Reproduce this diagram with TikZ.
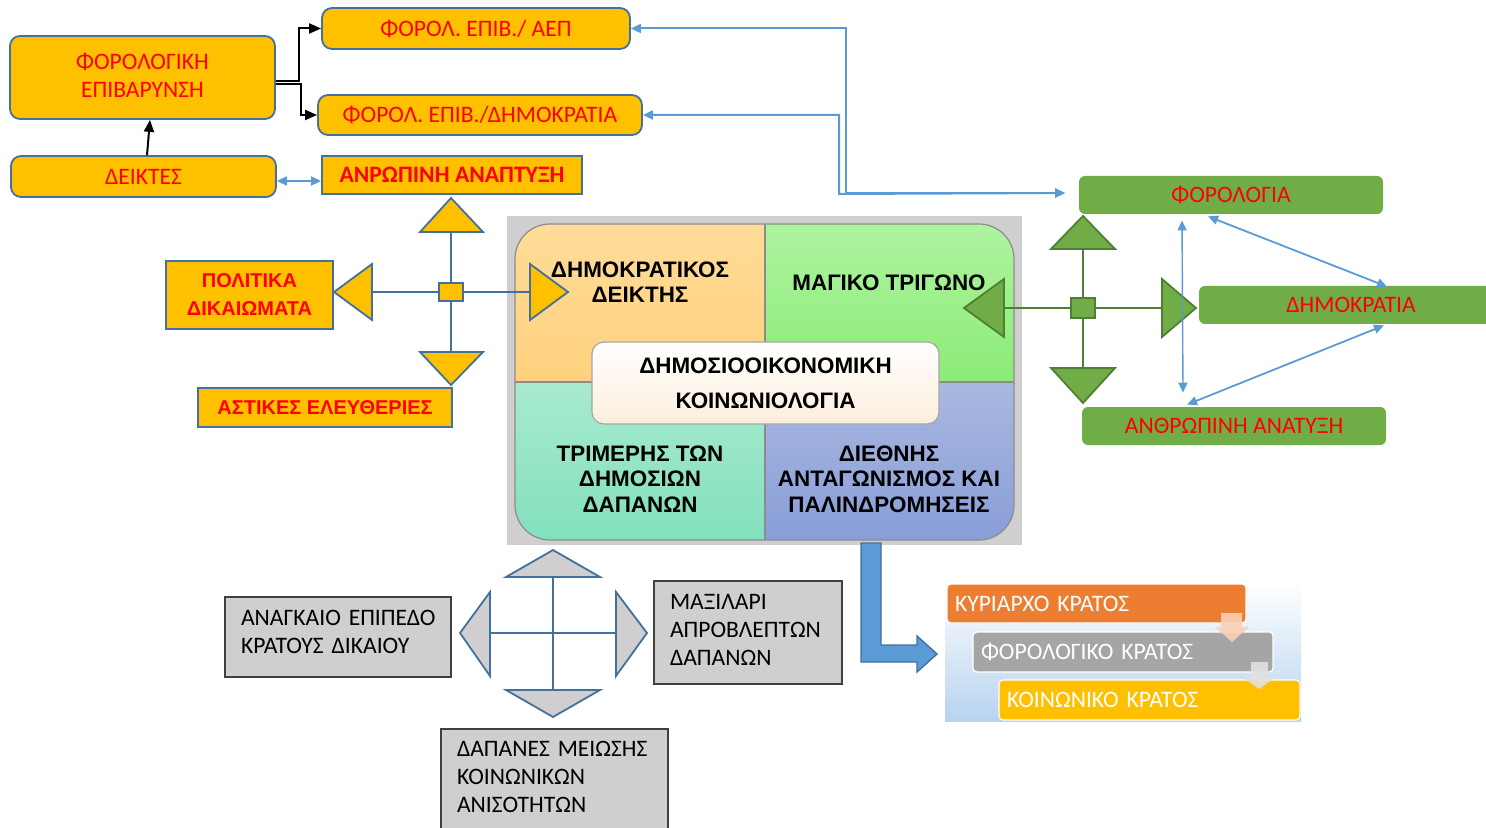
\documentclass[tikz,border=0pt]{standalone}
\usepackage{fontspec}
\setmainfont{Carlito}
\newfontfamily\arb{Liberation Sans}
\usetikzlibrary{arrows.meta,calc}
\definecolor{gold}{HTML}{FFC000}
\definecolor{sblue}{HTML}{41719C}
\definecolor{lblue}{HTML}{5B9BD5}
\definecolor{gfill}{HTML}{70AD47}
\definecolor{gdark}{HTML}{507E32}
\definecolor{lgray}{HTML}{D0CECE}
\definecolor{orng}{HTML}{ED7D31}
\definecolor{mgray}{HTML}{A5A5A5}
\definecolor{cream}{HTML}{FCEEDC}
\definecolor{qtlA}{HTML}{FFDC98}
\definecolor{qtlB}{HTML}{FFD17E}
\definecolor{qtrA}{HTML}{ADF4A0}
\definecolor{qtrB}{HTML}{8DEB76}
\definecolor{qblA}{HTML}{A8EAD0}
\definecolor{qblB}{HTML}{82E0BC}
\definecolor{qbrA}{HTML}{AAB8E1}
\definecolor{qbrB}{HTML}{889ED7}
\definecolor{stbg}{HTML}{B7D3EE}
\begin{document}
\begin{tikzpicture}[x=0.5pt,y=-0.5pt,
  obox/.style={draw=sblue, line width=0.9pt, fill=gold, text=red, rounded corners=5pt,
    inner sep=0pt, align=center, font=\fontsize{11.8}{14}\selectfont},
  sbox/.style={obox, rounded corners=0pt, font=\arb\bfseries\fontsize{10}{14}\selectfont},
  gbox/.style={fill=gfill, draw=none, rounded corners=3pt, text=red, inner sep=0pt,
    font=\fontsize{11.8}{14}\selectfont},
  grbox/.style={fill=lgray, draw=black!75, line width=0.6pt, align=left, inner xsep=8pt,
    font=\fontsize{11.8}{14}\selectfont},
  stbox/.style={draw=white, line width=0.6pt, rounded corners=2pt, text=white, align=left,
    inner xsep=4pt, inner ysep=0pt, font=\fontsize{11.8}{13}\selectfont},
  blk/.style={draw=black, line width=1pt, -{Triangle[length=6pt,width=5pt]}},
  bl/.style={draw=lblue, line width=0.9pt,
    {Triangle[length=5pt,width=4.5pt]}-{Triangle[length=5pt,width=4.5pt]}},
  quad/.style={font=\arb\bfseries\fontsize{11.2}{12.75}\selectfont, align=center, inner sep=0pt},
  otri/.style={fill=gold, draw=sblue, line width=0.9pt},
  oline/.style={draw=sblue, line width=1.1pt},
  gtri/.style={fill=gfill, draw=gdark, line width=0.9pt},
  gline/.style={draw=gdark, line width=1.1pt},
  ytri/.style={fill=lgray, draw=sblue, line width=0.9pt},
  yline/.style={draw=sblue, line width=1.1pt}
]
\useasboundingbox (0,0) rectangle (1486,828);

% ---------- top-left orange boxes ----------
\node[obox, minimum width=132.5pt, minimum height=41.5pt] (fe) at (142.5,77.5) {ΦΟΡΟΛΟΓΙΚΗ\\ΕΠΙΒΑΡΥΝΣΗ\vspace{2pt}};
\node[obox, minimum width=154pt, minimum height=20.5pt] (aep) at (476,28.5) {ΦΟΡΟΛ. ΕΠΙΒ./ ΑΕΠ};
\node[obox, minimum width=162pt, minimum height=20pt] (dim) at (480,115) {ΦΟΡΟΛ. ΕΠΙΒ./ΔΗΜΟΚΡΑΤΙΑ};
\node[obox, minimum width=132.5pt, minimum height=20.5pt] (deik) at (143.5,176.5) {ΔΕΙΚΤΕΣ};
\node[obox, rounded corners=0pt, minimum width=130pt, minimum height=19pt,
  font=\bfseries\fontsize{11.8}{14}\selectfont] (anr) at (452,175) {ΑΝΡΩΠΙΝΗ ΑΝΑΠΤΥΞΗ};
\node[sbox, minimum width=83.5pt, minimum height=34pt] (pol) at (249.5,295) {ΠΟΛΙΤΙΚΑ\\ΔΙΚΑΙΩΜΑΤΑ};
\node[sbox, minimum width=127pt, minimum height=19.5pt] (ast) at (325,407.5) {ΑΣΤΙΚΕΣ ΕΛΕΥΘΕΡΙΕΣ};

\draw[blk] ([yshift=-1.75pt]fe.east) -- ++(11.5pt,0) |- (aep.west);
\draw[blk] ([yshift=-3.25pt]fe.east) -- ++(12.5pt,0) |- (dim.west);
\draw[blk] ([xshift=1.75pt]deik.north) -- ([xshift=3.75pt]fe.south);
\draw[bl] ([yshift=-2.25pt]deik.east) -- ([yshift=-3pt]anr.west);

% ---------- central matrix ----------
\fill[lgray] (507,216) rectangle (1022,545);
\begin{scope}
\clip[rounded corners=17.5pt] (515,224) rectangle (1014,540);
\shade[top color=qtlA, bottom color=qtlB] (515,224) rectangle (765,382);
\shade[top color=qtrA, bottom color=qtrB] (765,224) rectangle (1014,382);
\shade[top color=qblA, bottom color=qblB] (515,382) rectangle (765,540);
\shade[top color=qbrA, bottom color=qbrB] (765,382) rectangle (1014,540);
\end{scope}
\draw[black!45, line width=0.6pt] (765,224) -- (765,540) (515,382) -- (1014,382);
\draw[black!45, line width=0.6pt, rounded corners=17.5pt] (515,224) rectangle (1014,540);

% ---------- orange cross ----------
\coordinate (lL) at (372,292); \coordinate (lR) at (530,292);
\coordinate (lU) at (451,232); \coordinate (lD) at (451,352);
\draw[oline] (lL) -- (lR);
\draw[oline] (lU) -- (lD);
\draw[otri] (451,198) -- (483,232) -- (420,232) -- cycle;
\draw[otri] (420,352) -- (483,352) -- (451,385) -- cycle;
\draw[otri] (334,292) -- (372,264) -- (372,320) -- cycle;
\draw[otri] (530,264) -- (568,292) -- (530,320) -- cycle;
\node[fill=gold, draw=sblue, line width=0.9pt, minimum width=12pt, minimum height=9pt, inner sep=0pt] (lsq) at (451,292) {};

% ---------- green cross ----------
\coordinate (gL) at (1004,308); \coordinate (gR) at (1162,308);
\coordinate (gU) at (1083,249); \coordinate (gD) at (1083,368);
\draw[gline] (gL) -- (gR);
\draw[gline] (gU) -- (gD);
\draw[gtri] (1083,216) -- (1115,249) -- (1051,249) -- cycle;
\draw[gtri] (1051,368) -- (1115,368) -- (1083,403) -- cycle;
\draw[gtri] (964,308) -- (1004,279) -- (1004,337) -- cycle;
\draw[gtri] (1162,279) -- (1196,308) -- (1162,337) -- cycle;
\node[fill=gfill, draw=gdark, line width=0.9pt, minimum width=12pt, minimum height=10pt, inner sep=0pt] (gsq) at (1083,308) {};

\node[draw=black!35, line width=0.6pt, rounded corners=6pt, top color=white, bottom color=cream,
  minimum width=173.5pt, minimum height=41pt, quad, font=\arb\bfseries\fontsize{11.2}{17.5}\selectfont]
  (cen) at (765.5,383) {ΔΗΜΟΣΙΟΟΙΚΟΝΟΜΙΚΗ\\ΚΟΙΝΩΝΙΟΛΟΓΙΑ};
\node[quad] (qtl) at (640,282) {ΔΗΜΟΚΡΑΤΙΚΟΣ\\ΔΕΙΚΤΗΣ};
\node[quad] (qtr) at (889,283) {ΜΑΓΙΚΟ ΤΡΙΓΩΝΟ};
\node[quad] (qbl) at (640,479) {ΤΡΙΜΕΡΗΣ ΤΩΝ\\ΔΗΜΟΣΙΩΝ\\ΔΑΠΑΝΩΝ};
\node[quad] (qbr) at (889,479) {ΔΙΕΘΝΗΣ\\ΑΝΤΑΓΩΝΙΣΜΟΣ ΚΑΙ\\ΠΑΛΙΝΔΡΟΜΗΣΕΙΣ};

% ---------- green boxes ----------
\node[gbox, minimum width=152pt, minimum height=19pt] (gfor) at (1231,195) {ΦΟΡΟΛΟΓΙΑ};
\node[gbox, minimum width=152pt, minimum height=19pt] (gdim) at (1351,305) {ΔΗΜΟΚΡΑΤΙΑ};
\node[gbox, minimum width=152pt, minimum height=19pt] (gant) at (1234,426) {ΑΝΘΡΩΠΙΝΗ ΑΝΑΤΥΞΗ};

\draw[bl, line width=0.7pt] ([xshift=-24.5pt,yshift=-3pt]gfor.south) -- ([xshift=-25.5pt,yshift=7pt]gant.north);
\draw[bl, line width=0.9pt] ([xshift=-11.5pt,yshift=-1pt]gfor.south) -- ([xshift=18pt,yshift=-0.5pt]gdim.north);
\draw[bl, line width=0.9pt] ([xshift=16.5pt,yshift=-0.5pt]gdim.south) -- ([xshift=-23.5pt,yshift=1pt]gant.north);

% long elbow connectors
\coordinate (j1) at (846,193);
\coordinate (j2) at (839,194);
\coordinate (ftip) at (1065,193);
\draw[bl, line width=1pt] (aep.east) -| (j1) -- (ftip);
\draw[bl, line width=1pt] (dim.east) -| (j2) -- (ftip);

% ---------- block arrow ----------
\draw[fill=lblue, draw=sblue, line width=0.7pt] (861,543) -- (881,543) -- (881,645) -- (917,645) -- (917,636)
  -- (937,654) -- (917,672) -- (917,662) -- (861,662) -- cycle;

% ---------- state boxes ----------
\shade[top color=white, bottom color=stbg] (945,583) rectangle (1301,721);
\node[stbox, fill=orng, minimum width=149.5pt, minimum height=19.5pt, text width=141.5pt] (kyr) at (1096.5,603.5) {\mbox{ΚΥΡΙΑΡΧΟ ΚΡΑΤΟΣ}};
\node[stbox, fill=mgray, minimum width=150pt, minimum height=20pt, text width=142pt] (phk) at (1123,652) {\mbox{ΦΟΡΟΛΟΓΙΚΟ ΚΡΑΤΟΣ}};
\node[stbox, fill=gold, minimum width=150.5pt, minimum height=20pt, text width=142.5pt] (koin) at (1149.5,700) {\mbox{ΚΟΙΝΩΝΙΚΟ ΚΡΑΤΟΣ}};
\fill[fill=orng!35!white, fill opacity=0.9] (1221,613) -- (1242,613) -- (1242,627) -- (1249,627) -- (1232,642) -- (1215,627) -- (1221,627) -- cycle;
\fill[fill=black!12, fill opacity=0.9] (1251,662) -- (1268,662) -- (1268,677) -- (1276,677) -- (1259,689) -- (1242,677) -- (1251,677) -- cycle;

% ---------- gray cross ----------
\coordinate (yL) at (490,633); \coordinate (yR) at (616,633);
\coordinate (yU) at (553,577); \coordinate (yD) at (553,690);
\draw[yline] (yL) -- (yR);
\draw[yline] (yU) -- (yD);
\draw[ytri] (553,550) -- (600,577) -- (506,577) -- cycle;
\draw[ytri] (506,690) -- (600,690) -- (553,717) -- cycle;
\draw[ytri] (460,633) -- (490,592) -- (490,676) -- cycle;
\draw[ytri] (616,592) -- (647,633) -- (616,676) -- cycle;

\node[grbox, minimum width=113pt, minimum height=40pt, text width=97pt] (nec) at (338,637) {\mbox{ΑΝΑΓΚΑΙΟ ΕΠΙΠΕΔΟ}\\\mbox{ΚΡΑΤΟΥΣ ΔΙΚΑΙΟΥ}\vspace{5pt}};
\node[grbox, minimum width=94pt, minimum height=51.5pt, text width=78pt] (maxi) at (748,632.5) {\mbox{ΜΑΞΙΛΑΡΙ}\\\mbox{ΑΠΡΟΒΛΕΠΤΩΝ}\\\mbox{ΔΑΠΑΝΩΝ}\vspace{3pt}};
\node[grbox, minimum width=113.5pt, minimum height=51pt, text width=97.5pt] (dap) at (554.5,780) {\mbox{ΔΑΠΑΝΕΣ ΜΕΙΩΣΗΣ}\\\mbox{ΚΟΙΝΩΝΙΚΩΝ}\\\mbox{ΑΝΙΣΟΤΗΤΩΝ}\vspace{3pt}};
\end{tikzpicture}
\end{document}
